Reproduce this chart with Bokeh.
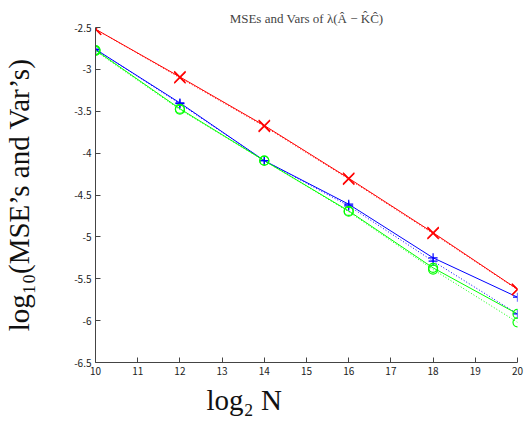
from bokeh.plotting import figure
from bokeh.models import FixedTicker, Range1d, Title
from bokeh.embed import file_html
from bokeh.resources import INLINE

# Data
log2N = [10, 12, 14, 16, 18, 20]
mse_red = [-2.52, -3.09, -3.67, -4.30, -4.95, -5.625]
var_red = [-2.52, -3.10, -3.68, -4.31, -4.96, -5.63]
mse_blue = [-2.76, -3.40, -4.09, -4.61, -5.25, -5.72]
var_blue = [-2.76, -3.41, -4.09, -4.63, -5.29, -5.92]
mse_green = [-2.77, -3.47, -4.09, -4.69, -5.37, -5.92]
var_green = [-2.78, -3.48, -4.09, -4.70, -5.39, -6.02]

x_ticks = [10, 11, 12, 13, 14, 15, 16, 17, 18, 19, 20]
y_ticks = [-6.5, -6, -5.5, -5, -4.5, -4, -3.5, -3, -2.5]
y_tick_labels = ["-6.5", "-6", "-5.5", "-5", "-4.5", "-4", "-3.5", "-3", "-2.5"]

p = figure(width=524, height=419, output_backend="svg", toolbar_location=None,
           x_range=Range1d(10, 20), y_range=Range1d(-6.5, -2.5),
           min_border_left=92, min_border_right=7, min_border_top=27, min_border_bottom=56)

p.title.text = "MSEs and Vars of λ(Â − K̂Ĉ)"
p.title.align = "center"
p.title.text_font = "Liberation Serif"
p.title.text_font_size = "13px"
p.title.text_font_style = "normal"
p.title.standoff = 4

p.outline_line_color = None
p.xgrid.visible = False
p.ygrid.visible = False

for ax in (p.xaxis[0], p.yaxis[0]):
    ax.major_tick_in = 5
    ax.major_tick_out = 0
    ax.minor_tick_line_color = None
    ax.axis_line_color = "#444444"
    ax.major_tick_line_color = "#444444"
    ax.major_label_text_font = "Noto Sans CJK JP"
    ax.major_label_text_font_size = "10px"
    ax.major_label_text_color = "#222222"
    ax.axis_label_text_font = "Liberation Serif"
    ax.axis_label_text_font_style = "normal"
    ax.axis_label_text_font_size = "29px"
    ax.axis_label_text_color = "#111111"

p.xaxis[0].ticker = FixedTicker(ticks=x_ticks)
p.yaxis[0].ticker = FixedTicker(ticks=y_ticks)
p.yaxis[0].major_label_overrides = {t: l for t, l in zip(y_ticks, y_tick_labels)}
p.yaxis[0].axis_label = "log₁₀(MSE’s and Var’s)"
p.yaxis[0].axis_label_standoff = 36
p.xaxis[0].major_label_standoff = 4
p.yaxis[0].major_label_standoff = 4

xlabel = Title(text="log₂ N", align="left", offset=111, text_font="Liberation Serif",
               text_font_size="29px", text_font_style="normal", text_color="#111111",
               standoff=8)
p.add_layout(xlabel, "below")

series = [
    (mse_red, "#ff0000", "solid", "x"),
    (var_red, "#ff0000", "1 2", "x"),
    (mse_blue, "#0000ff", "solid", "cross"),
    (var_blue, "#0000ff", "1 2", "cross"),
    (mse_green, "#00ff00", "solid", "circle"),
    (var_green, "#00ff00", "1 2", "circle"),
]
sizes = {"x": 16, "cross": 9, "circle": 9}
for ys, col, dash, mk in series:
    p.line(log2N, ys, line_color=col, line_width=1, line_dash=dash)
for ys, col, dash, mk in series:
    p.scatter(log2N, ys, marker=mk, size=sizes[mk], line_color=col, fill_color=None, line_width=1.2)

open("out.html", "w").write(file_html(p, INLINE))
